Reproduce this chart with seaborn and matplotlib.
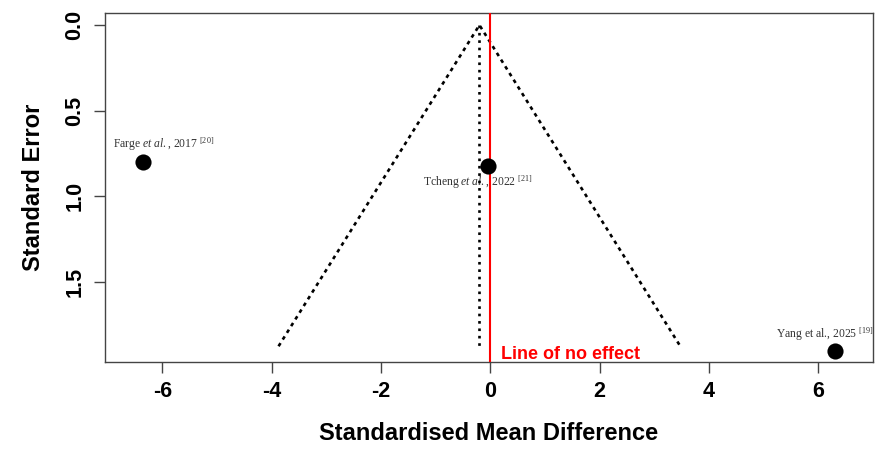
import numpy as np
import pandas as pd
import seaborn as sns
import matplotlib
matplotlib.use("Agg")
import matplotlib.pyplot as plt

# ---- data ----
studies = ["Farge", "Tcheng", "Yang"]
smd = [-6.36, -0.05, 6.30]
std_error = [0.80, 0.82, 1.90]
study_labels = [
    r"Farge $\mathit{et\ al.}$, 2017 $^{\mathrm{[20]}}$",
    r"Tcheng $\mathit{et\ al.}$, 2022 $^{\mathrm{[21]}}$",
    r"Yang et al., 2025 $^{\mathrm{[19]}}$",
]
pooled_smd = -0.2
funnel_se_max = 1.875
null_effect = 0.0
x_ticks = [-6, -4, -2, 0, 2, 4, 6]
y_ticks = [0.0, 0.5, 1.0, 1.5]
y_tick_labels = ["0.0", "0.5", "1.0", "1.5"]

df = pd.DataFrame({"study": studies, "smd": smd, "se": std_error, "label": study_labels})

sns.set_style("white")
plt.rcParams["font.family"] = ["Liberation Sans", "DejaVu Sans"]
plt.rcParams["mathtext.fontset"] = "custom"
plt.rcParams["mathtext.rm"] = "Liberation Serif"
plt.rcParams["mathtext.it"] = "Liberation Serif:italic"
plt.rcParams["text.color"] = "black"
plt.rcParams["axes.labelcolor"] = "black"
plt.rcParams["xtick.color"] = "black"
plt.rcParams["ytick.color"] = "black"

fig = plt.figure(figsize=(8.92, 4.67), dpi=100)
ax = fig.add_axes([0.1177, 0.2248, 0.9787 - 0.1177, 0.972 - 0.2248])

# funnel
z = 1.96
ax.plot([pooled_smd - z * funnel_se_max, pooled_smd, pooled_smd + z * funnel_se_max],
        [funnel_se_max, 0, funnel_se_max], color="black", lw=1.9,
        linestyle=(0, (1.4, 1.6)), zorder=2)
ax.plot([pooled_smd, pooled_smd], [0, funnel_se_max], color="black", lw=1.9,
        linestyle=(0, (1.0, 1.8)), zorder=2)

# line of no effect
ax.axvline(null_effect, color="#ff0000", lw=1.5, zorder=3)
ax.text(null_effect + 0.19, 1.95, "Line of no effect", color="#ff0000",
        fontsize=13, fontweight="bold", ha="left", va="baseline")

# points
sns.scatterplot(data=df, x="smd", y="se", ax=ax, color="black", s=135,
                edgecolor="black", linewidth=0, zorder=4, legend=False)

label_offsets = {"Farge": (-30, 14), "Tcheng": (-65, -20), "Yang": (-59, 13)}
for _, r in df.iterrows():
    ax.annotate(r["label"], xy=(r["smd"], r["se"]), xytext=label_offsets[r["study"]],
                textcoords="offset pixels", ha="left", va="baseline",
                fontsize=8.4, color="#333333", family="Liberation Serif", zorder=1)

ax.set_xlim(-7.05, 7.0)
ax.set_ylim(1.967, -0.07)
ax.set_xticks(x_ticks)
ax.set_xticklabels([str(t) for t in x_ticks])
ax.set_yticks(y_ticks)
ax.set_yticklabels(y_tick_labels, rotation=90, va="center")

for s in ax.spines.values():
    s.set_visible(True)
    s.set_color("#444444")
    s.set_linewidth(1.0)

ax.tick_params(axis="both", which="major", length=8, width=1.0, color="#444444",
               labelcolor="black", labelsize=15.5, pad=6, direction="out",
               bottom=True, left=True)
for lab in ax.get_xticklabels() + ax.get_yticklabels():
    lab.set_fontweight("bold")

ax.set_xlabel("Standardised Mean Difference", fontsize=17, fontweight="bold",
              labelpad=14, color="black")
ax.set_ylabel("Standard Error", fontsize=17, fontweight="bold", labelpad=14,
              color="black")

fig.savefig("out.png", dpi=100)
